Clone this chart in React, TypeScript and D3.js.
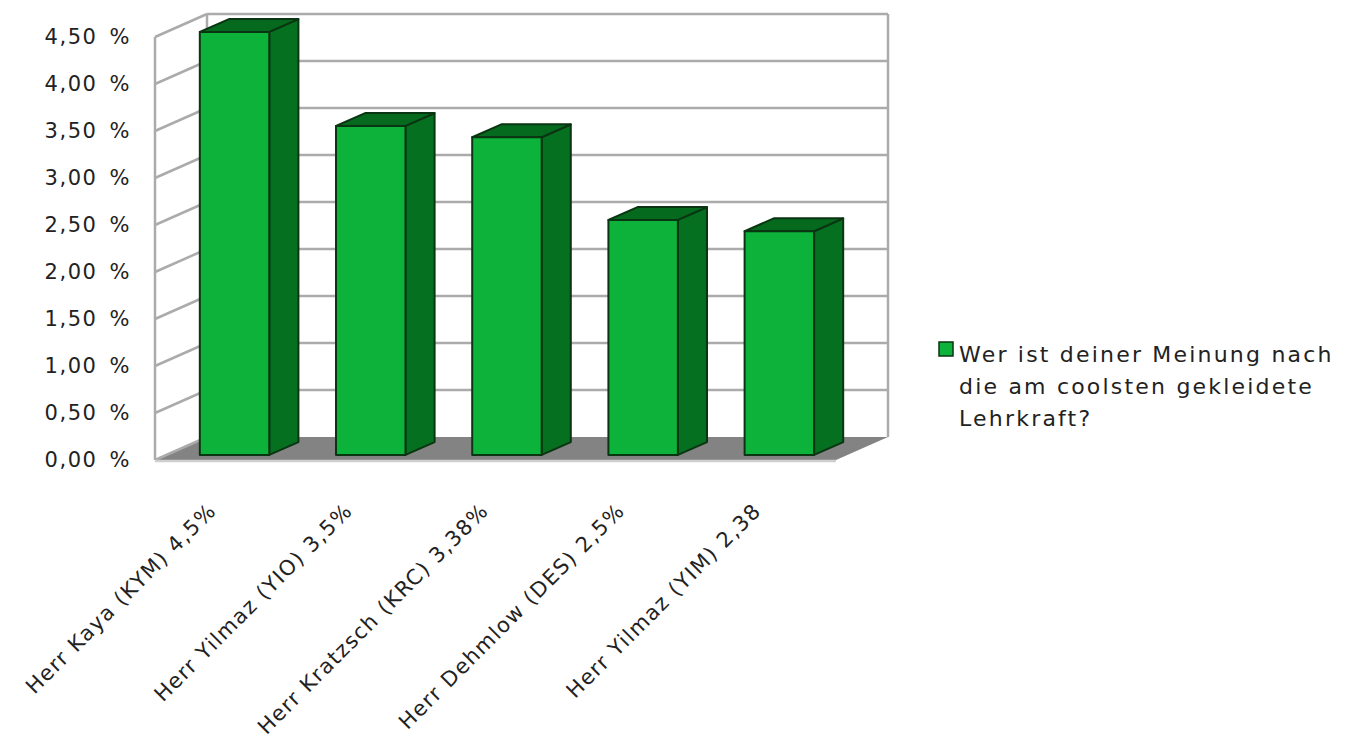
import React from "react";
import * as d3 from "d3";

const categories = [
  "Herr Kaya (KYM) 4,5%",
  "Herr Yilmaz (YIO) 3,5%",
  "Herr Kratzsch (KRC) 3,38%",
  "Herr Dehmlow (DES) 2,5%",
  "Herr Yilmaz (YIM) 2,38",
];
const values = [4.5, 3.5, 3.38, 2.5, 2.38];
const yTicks = [0, 0.5, 1, 1.5, 2, 2.5, 3, 3.5, 4, 4.5];
const legendLines = ["Wer ist deiner Meinung nach", "die am coolsten gekleidete", "Lehrkraft?"];

const W = 1352;
const H = 749;
const DX = 52;
const DY = -23;
const FRONT_F = 0.22;
const BACK_F = 0.78;

const FONT = "'DejaVu Sans', Verdana, sans-serif";

export default function App() {
  const y = d3.scaleLinear().domain([0, 4.5]).range([460, 37]);
  const x = d3
    .scaleBand<string>()
    .domain(categories)
    .range([155, 836])
    .paddingInner(0.49)
    .paddingOuter(0.245);

  const pt = (px: number, v: number, f: number): [number, number] => [px + f * DX, y(v) + f * DY];
  const poly = (ps: [number, number][]) => ps.map((p) => p.join(",")).join(" ");

  const x0 = x.range()[0];
  const x1 = x.range()[1];
  const gridColor = "#ababab";
  const fmt = (v: number) => d3.format(".2f")(v).replace(".", ",") + " %";

  return (
    <svg
      width={W}
      height={H}
      style={{ position: "absolute", left: 0, top: 0, background: "#fff" }}
      fontFamily={FONT}
    >
      {/* floor */}
      <polygon
        points={poly([pt(x0, 0, 0), pt(x1, 0, 0), pt(x1, 0, 1), pt(x0, 0, 1)])}
        fill="#838383"
      />
      {/* gridlines */}
      {yTicks.map((t) => {
        const a = pt(x0, t, 1);
        const b = pt(x1, t, 1);
        const c = pt(x0, t, 0);
        return (
          <g key={"g" + t}>
            {t > 0 && <line x1={a[0]} y1={a[1]} x2={b[0]} y2={b[1]} stroke={gridColor} strokeWidth={2.5} />}
            <line x1={c[0]} y1={c[1]} x2={a[0]} y2={a[1]} stroke={gridColor} strokeWidth={2.5} />
          </g>
        );
      })}
      {/* wall edges */}
      {(() => {
        const fb = pt(x0, 0, 0);
        const ft = pt(x0, 4.5, 0);
        const bl = pt(x0, 4.5, 1);
        const blb = pt(x0, 0, 1);
        const br = pt(x1, 4.5, 1);
        const brb = pt(x1, 0, 1);
        const frb = pt(x1, 0, 0);
        return (
          <g stroke={gridColor} strokeWidth={2.5} fill="none">
            <line x1={fb[0]} y1={fb[1]} x2={ft[0]} y2={ft[1]} />
            <line x1={blb[0]} y1={blb[1]} x2={bl[0]} y2={bl[1]} />
            <line x1={brb[0]} y1={brb[1]} x2={br[0]} y2={br[1]} />
            <line x1={fb[0]} y1={fb[1] + 1} x2={frb[0]} y2={frb[1] + 1} stroke="#cfcfcf" />
          </g>
        );
      })()}
      {/* bars */}
      {categories.map((c, i) => {
        const xl = x(c)!;
        const xr = xl + x.bandwidth();
        const v = values[i];
        const fl0 = pt(xl, 0, FRONT_F);
        const fr0 = pt(xr, 0, FRONT_F);
        const flt = pt(xl, v, FRONT_F);
        const frt = pt(xr, v, FRONT_F);
        const brt = pt(xr, v, BACK_F);
        const blt = pt(xl, v, BACK_F);
        const br0 = pt(xr, 0, BACK_F);
        return (
          <g key={c} stroke="#0a3512" strokeWidth={2} strokeLinejoin="round">
            <polygon points={poly([fr0, frt, brt, br0])} fill="#05701f" />
            <polygon points={poly([flt, frt, brt, blt])} fill="#056a1e" />
            <polygon points={poly([fl0, fr0, frt, flt])} fill="#0db23b" />
          </g>
        );
      })}
      {/* y tick labels */}
      {yTicks.map((t) => (
        <text
          key={"t" + t}
          x={131}
          y={y(t)}
          dy="0.35em"
          textAnchor="end"
          fontSize={21}
          letterSpacing={1.5}
          wordSpacing={4}
          fill="#222"
        >
          {fmt(t)}
        </text>
      ))}
      {/* x labels */}
      {categories.map((c) => {
        const cx = x(c)! + x.bandwidth() / 2 + FRONT_F * DX;
        const tx = cx - 17;
        const ty = 512;
        return (
          <text
            key={"l" + c}
            x={tx}
            y={ty}
            textAnchor="end"
            fontSize={21}
            letterSpacing={1.4}
            fill="#222"
            transform={`rotate(-45 ${tx} ${ty})`}
          >
            {c}
          </text>
        );
      })}
      {/* legend */}
      <rect x={939} y={342} width={14} height={14} fill="#0db23b" stroke="#0a3512" strokeWidth={1.5} />
      <text x={959} y={362} fontSize={22} letterSpacing={2.2} fill="#222">
        {legendLines.map((l, i) => (
          <tspan key={l} x={959} dy={i === 0 ? 0 : 32}>
            {l}
          </tspan>
        ))}
      </text>
    </svg>
  );
}
